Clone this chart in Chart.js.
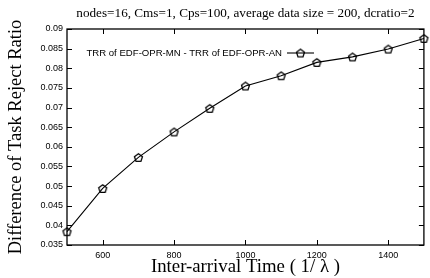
<!DOCTYPE html>
<html>
<head>
<meta charset="utf-8">
<script src="https://cdn.jsdelivr.net/npm/chart.js@4/dist/chart.umd.min.js"></script>
<style>
  html, body { margin: 0; padding: 0; background: #fff; }
  #wrap { width: 430px; height: 278px; }
</style>
</head>
<body>
<div id="wrap"><canvas id="trrChart"></canvas></div>
<script>
// Data
const arrivalTimes = [500, 600, 700, 800, 900, 1000, 1100, 1200, 1300, 1400, 1500];
const trrDiff = [0.0384, 0.0494, 0.0573, 0.0638, 0.0698, 0.0755, 0.0781, 0.0815, 0.0829, 0.0849, 0.0876];
const xTicks = [600, 800, 1000, 1200, 1400];
const yTicks = [0.035, 0.04, 0.045, 0.05, 0.055, 0.06, 0.065, 0.07, 0.075, 0.08, 0.085, 0.09];
const seriesLabel = 'TRR of EDF-OPR-MN - TRR of EDF-OPR-AN';
const chartTitle = 'nodes=16, Cms=1, Cps=100, average data size = 200, dcratio=2';

const serif = '"Liberation Serif", "DejaVu Serif", serif';
const sans = '"Liberation Sans", Arial, sans-serif';

// open pentagon marker (gnuplot pt 14 look-alike)
function pentagon(r) {
  const c = document.createElement('canvas');
  const s = Math.ceil(r * 2 + 4);
  c.width = c.height = s;
  const g = c.getContext('2d');
  g.strokeStyle = '#000';
  g.lineWidth = 1.3;
  g.beginPath();
  for (let i = 0; i < 5; i++) {
    const a = -Math.PI / 2 + i * 2 * Math.PI / 5;
    const px = s / 2 + r * Math.cos(a), py = s / 2 + 0.5 + r * Math.sin(a);
    if (i === 0) g.moveTo(px, py); else g.lineTo(px, py);
  }
  g.closePath();
  g.stroke();
  return c;
}
const marker = pentagon(4.2);

// frame, inward ticks, title and legend like gnuplot
const gnuplotFrame = {
  id: 'gnuplotFrame',
  afterDatasetsDraw(chart) {
    const { ctx, chartArea: a, scales } = chart;
    ctx.save();
    ctx.strokeStyle = '#000';
    ctx.lineWidth = 1.3;
    ctx.strokeRect(a.left, a.top, a.right - a.left, a.bottom - a.top);
    ctx.lineWidth = 1;
    ctx.beginPath();
    scales.x.ticks.forEach(t => {
      const px = Math.round(scales.x.getPixelForValue(t.value)) + 0.5;
      ctx.moveTo(px, a.bottom); ctx.lineTo(px, a.bottom - 5);
      ctx.moveTo(px, a.top); ctx.lineTo(px, a.top + 5);
    });
    scales.y.ticks.forEach(t => {
      const py = Math.round(scales.y.getPixelForValue(t.value)) + 0.5;
      ctx.moveTo(a.left, py); ctx.lineTo(a.left + 5, py);
      ctx.moveTo(a.right, py); ctx.lineTo(a.right - 5, py);
    });
    ctx.stroke();

    // title
    ctx.fillStyle = '#000';
    ctx.font = '13.2px ' + serif;
    ctx.textAlign = 'center';
    ctx.textBaseline = 'middle';
    ctx.fillText(chartTitle, (a.left + a.right) / 2, 14);

    // legend
    const ly = a.top + 24;
    const sx = a.left + 220;
    ctx.font = '9.6px ' + sans;
    ctx.textAlign = 'right';
    ctx.fillText(seriesLabel, sx - 5, ly);
    ctx.lineWidth = 1.1;
    ctx.beginPath();
    ctx.moveTo(sx, ly); ctx.lineTo(sx + 27, ly);
    ctx.stroke();
    ctx.drawImage(marker, sx + 13.5 - marker.width / 2, ly - marker.height / 2);
    ctx.restore();
  }
};

new Chart(document.getElementById('trrChart'), {
  type: 'line',
  data: {
    datasets: [{
      label: seriesLabel,
      data: arrivalTimes.map((t, i) => ({ x: t, y: trrDiff[i] })),
      borderColor: '#000',
      borderWidth: 1.1,
      pointStyle: marker,
      pointRadius: 5,
      tension: 0,
      clip: false,
      fill: false
    }]
  },
  options: {
    responsive: true,
    maintainAspectRatio: false,
    animation: false,
    layout: { padding: { top: 29, right: 2, left: 0, bottom: 0 } },
    plugins: { legend: { display: false }, title: { display: false }, tooltip: { enabled: false } },
    scales: {
      x: {
        type: 'linear',
        min: 500,
        max: 1500,
        afterBuildTicks: s => { s.ticks = xTicks.map(v => ({ value: v })); },
        afterFit: s => { s.height = 33; },
        grid: { display: false, drawTicks: false },
        border: { display: false },
        ticks: { color: '#000', font: { family: sans, size: 9 }, padding: 5, maxRotation: 0, callback: v => String(v) },
        title: { display: true, text: 'Inter-arrival Time ( 1/ λ )', color: '#000', font: { family: serif, size: 18.8 }, padding: 0 }
      },
      y: {
        min: 0.035,
        max: 0.09,
        afterBuildTicks: s => { s.ticks = yTicks.map(v => ({ value: v })); },
        afterFit: s => { s.width = 67; },
        grid: { display: false, drawTicks: false },
        border: { display: false },
        ticks: { color: '#000', font: { family: sans, size: 9 }, padding: 4, callback: v => String(+v.toFixed(3)) },
        title: { display: true, text: 'Difference of Task Reject Ratio', color: '#000', font: { family: serif, size: 18.5 }, padding: { top: 5, bottom: 0 } }
      }
    }
  },
  plugins: [gnuplotFrame]
});
</script>
</body>
</html>
